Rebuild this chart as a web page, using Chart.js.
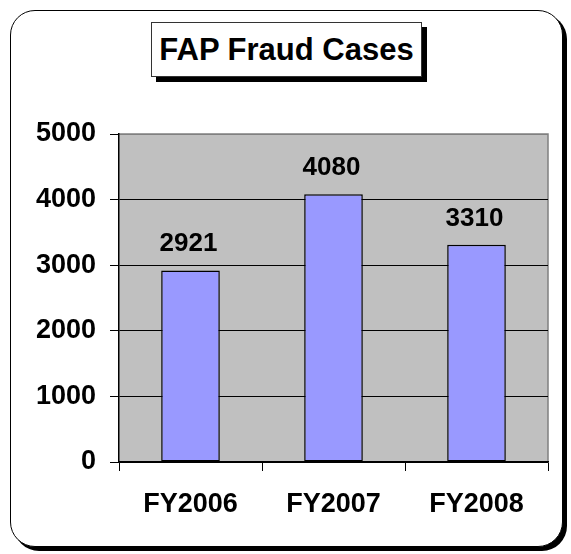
<!DOCTYPE html>
<html>
<head>
<meta charset="utf-8">
<script src="https://cdn.jsdelivr.net/npm/chart.js@4.4.1/dist/chart.umd.min.js"></script>
<style>
    body { margin: 0; background: #fff; font-family: "Liberation Sans", Arial, sans-serif; }
    #wrap { position: relative; width: 571px; height: 554px; overflow: hidden; }
    #frame {
        position: absolute; left: 10px; top: 10px; width: 551px; height: 535px;
        border: 1.5px solid #000; border-radius: 25px;
        box-shadow: 4px 4px 0 #000; background: #fff;
    }
    #title {
        position: absolute; left: 151px; top: 22px; width: 269px; height: 53px;
        border: 1px solid #333; box-shadow: 5px 5px 0 #000; background: #fff;
        font-weight: bold; font-size: 31px; line-height: 53px; text-align: center;
    }
    canvas { position: absolute; left: 0; top: 0; }
</style>
</head>
<body>
<div id="wrap">
    <div id="frame"></div>
    <div id="title">FAP Fraud Cases</div>
    <canvas id="fraudChart" width="571" height="554"></canvas>
</div>
<script>
// Chart data
const years = ['FY2006', 'FY2007', 'FY2008'];
const cases = [2921, 4080, 3310];
const yTicks = [0, 1000, 2000, 3000, 4000, 5000];

const labelFont = 'bold 26px "Liberation Sans", Arial, sans-serif';

// Gray plot background plus gray top/right edge
const plotBackground = {
    id: 'plotBackground',
    beforeDraw(chart) {
        const a = chart.chartArea;
        const ctx = chart.ctx;
        ctx.save();
        ctx.fillStyle = '#C0C0C0';
        ctx.fillRect(a.left, a.top, a.right - a.left, a.bottom - a.top);
        ctx.strokeStyle = '#808080';
        ctx.lineWidth = 1.5;
        ctx.beginPath();
        ctx.moveTo(a.left, a.top);
        ctx.lineTo(a.right, a.top);
        ctx.lineTo(a.right, a.bottom);
        ctx.stroke();
        ctx.restore();
    }
};

// Value labels above each bar
const valueLabels = {
    id: 'valueLabels',
    afterDatasetsDraw(chart) {
        const ctx = chart.ctx;
        const meta = chart.getDatasetMeta(0);
        ctx.save();
        ctx.font = labelFont;
        ctx.fillStyle = '#000';
        ctx.textAlign = 'center';
        ctx.textBaseline = 'alphabetic';
        meta.data.forEach((bar, i) => {
            ctx.fillText(String(cases[i]), bar.x - 2, bar.y - 19);
        });
        ctx.restore();
    }
};

new Chart(document.getElementById('fraudChart'), {
    type: 'bar',
    data: {
        labels: years,
        datasets: [{
            data: cases,
            backgroundColor: '#9999FF',
            borderColor: '#000',
            borderWidth: 1.5,
            borderSkipped: false,
            categoryPercentage: 1,
            barPercentage: 0.41
        }]
    },
    options: {
        responsive: false,
        animation: false,
        devicePixelRatio: 1,
        layout: { padding: { top: 134, right: 23, left: 0, bottom: 0 } },
        plugins: { legend: { display: false }, tooltip: { enabled: false } },
        scales: {
            x: {
                grid: { drawOnChartArea: false, tickLength: 9, color: '#000', offset: true },
                border: { color: '#000', width: 1.5 },
                ticks: { color: '#000', font: { family: '"Liberation Sans", Arial', size: 27, weight: 'bold' }, padding: 17 },
                afterFit(scale) { scale.height = 92; }
            },
            y: {
                min: 0,
                max: 5000,
                afterBuildTicks(scale) { scale.ticks = yTicks.map(v => ({ value: v })); },
                grid: {
                    tickLength: 9,
                    tickColor: '#000',
                    color: ctx => (ctx.tick && ctx.tick.value === 5000) ? '#808080' : '#000',
                    lineWidth: 1
                },
                border: { color: '#000', width: 1.5 },
                ticks: {
                    color: '#000',
                    font: { family: '"Liberation Sans", Arial', size: 27, weight: 'bold' },
                    padding: 14,
                    callback: v => String(v)
                },
                afterFit(scale) { scale.width = 119; }
            }
        }
    },
    plugins: [plotBackground, valueLabels]
});
</script>
</body>
</html>
